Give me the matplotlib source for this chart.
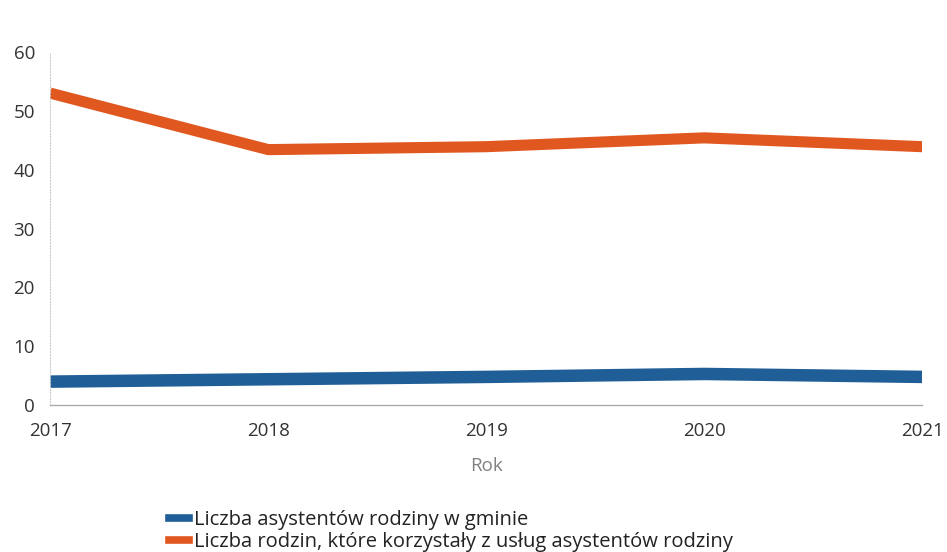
import matplotlib.pyplot as plt
from matplotlib.lines import Line2D

plt.rcParams['font.family'] = ['Open Sans', 'DejaVu Sans']

# Data
years = [2017, 2018, 2019, 2020, 2021]
asystenci = [4, 4.4, 4.8, 5.3, 4.8]
rodziny = [53, 43.4, 43.9, 45.4, 43.9]

labels = ['Liczba asystentów rodziny w gminie',
          'Liczba rodzin, które korzystały z usług asystentów rodziny']
colors = ['#1f5e96', '#e0571f']

fig = plt.figure(figsize=(9.47, 5.52), dpi=100)
ax = fig.add_axes([0.053, 0.266, 0.921, 0.640])

ax.plot(years, asystenci, color=colors[0], linewidth=9, solid_capstyle='butt')
ax.plot(years, rodziny, color=colors[1], linewidth=8, solid_capstyle='butt')

ax.set_xlim(2017, 2021)
ax.set_ylim(0, 60)
ax.set_xticks(years)
ax.set_yticks(range(0, 61, 10))
ax.tick_params(length=0, labelsize=13.5, labelcolor='#333333')
ax.tick_params(axis='x', pad=12)
ax.tick_params(axis='y', pad=11)

for s in ['top', 'right']:
    ax.spines[s].set_visible(False)
ax.spines['bottom'].set_color('#aaaaaa')
ax.spines['bottom'].set_linewidth(1)
ax.spines['left'].set_color('#cccccc')
ax.spines['left'].set_linestyle(':')
ax.spines['left'].set_linewidth(0.8)

ax.set_xlabel('Rok', fontsize=13.5, color='#808080', labelpad=12)

handles = [Line2D([0], [0], color=c, linewidth=5.5) for c in colors]
fig.legend(handles, labels, loc='upper left', bbox_to_anchor=(0.178, 0.076),
           bbox_transform=fig.transFigure, frameon=False, fontsize=14.5,
           handlelength=1.0, handletextpad=0.25, labelspacing=0.1,
           borderaxespad=0, borderpad=0, labelcolor='#222222')
fig.savefig('out.png', dpi=100)
